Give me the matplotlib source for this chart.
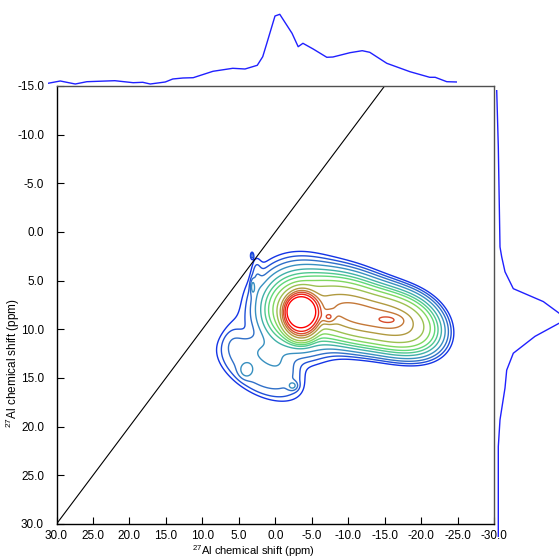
import numpy as np
import matplotlib
matplotlib.use("Agg")
import matplotlib.pyplot as plt
from matplotlib import font_manager

# ---------------- data ----------------
# F2 (horizontal) projection: chemical shift (ppm) and intensity (a.u.)
top_ppm = [30.0, 28.2, 26.0, 24.3, 20.2, 17.5, 16.1, 15.0, 12.8, 11.7, 10.2, 8.7, 5.8,
           2.9, 1.1, -0.7, -1.5, -2.1, -3.3, -4.0, -5.8, -6.7, -7.4, -8.9, -10.9,
           -11.8, -14.3, -16.1, -17.2, -19.7, -23.1, -26.0, -26.8, -28.5, -30.0]
top_int = [2.7, 5.0, 2.0, 4.3, 5.3, 3.3, 3.7, 2.0, 4.0, 7.0, 8.0, 8.3, 14.7,
           17.7, 17.0, 20.7, 29.3, 42.7, 70.0, 71.7, 52.7, 39.3, 42.7, 37.0, 28.7,
           29.0, 33.3, 35.3, 33.7, 22.7, 14.3, 8.7, 8.7, 4.3, 4.0]

# F1 (vertical) projection
right_ppm = [-15.0, -9.3, 0.8, 1.8, 3.3, 5.0, 6.3, 8.05, 9.8, 11.5, 13.2, 15.0, 18.2, 20.9, 30.0]
right_int = [2.7, 4.3, 6.0, 7.7, 11.0, 19.3, 49.3, 73.0, 41.0, 19.3, 12.7, 11.0, 6.0, 4.3, 4.3]

# 2D spectrum components: F2 centre, F1 centre, widths, shape exponents, shear, amplitude
peak_x = [-3.6, -3.0, -13.5, -15.8, -7.3, -9.0, 2.2, 4.0, -2.4, 6.0, 3.2, 3.1, 2.6]
peak_y = [8.5, 8.0, 8.8, 9.0, 8.8, 6.0, 14.2, 14.2, 15.8, 10.3, 2.4, 5.6, 4.0]
peak_sx = [2.1, 1.1, 6.0, 1.4, 0.6, 3.5, 5.3, 0.6, 0.45, 1.3, 0.15, 0.2, 0.5]
peak_sy = [2.0, 0.85, 1.8, 0.4, 0.45, 1.6, 2.5, 0.5, 0.3, 1.4, 0.25, 0.5, 1.4]
peak_ex = [2, 2, 3, 2, 2, 2, 2, 2, 2, 2, 2, 2, 2]
peak_ey = [2, 2, 2, 2, 2, 2, 2, 2, 2, 2, 2, 2, 2]
peak_p = [4, 1, 2, 2, 2, 2, 4, 2, 2, 2, 2, 2, 2]
peak_shear = [0, 0, -0.14, 0, 0, 0, -0.3, 0, 0, 0, 0, 0, 0]
peak_amp = [0.6, 0.8, 0.53, 0.08, 0.2, 0.06, 0.042, 0.03, 0.03, 0.015, 0.03, 0.03, 0.015]

levels = [0.0245, 0.033, 0.044, 0.06, 0.083, 0.108, 0.136, 0.18, 0.25, 0.37, 0.48,
          0.58, 0.69, 0.83]
level_colors = ['#1434e6', '#2050d8', '#3070c8', '#3890c0', '#40b0a8', '#50c890', '#60d878',
                '#80d860', '#9cc050', '#b09a40', '#c47838', '#d84c2c', '#ec2418', '#ff0000']

x_ticks = [30, 25, 20, 15, 10, 5, 0, -5, -10, -15, -20, -25, -30]
y_ticks = [-15, -10, -5, 0, 5, 10, 15, 20, 25, 30]
axis_label = r'$^{27}$Al chemical shift (ppm)'

# ---------------- style ----------------
names = {f.name for f in font_manager.fontManager.ttflist}
fam = ['Liberation Sans Narrow', 'Liberation Sans', 'DejaVu Sans']
fam = [f for f in fam if f in names] or ['DejaVu Sans']
plt.rcParams['font.family'] = fam
plt.rcParams['mathtext.default'] = 'regular'

W, H = 559, 558
fig = plt.figure(figsize=(W / 100, H / 100), dpi=100)

def box(l, t, r, b):
    return [l / W, 1 - b / H, (r - l) / W, (b - t) / H]

ax = fig.add_axes(box(56.5, 86, 494, 524))

xg = np.linspace(31, -31, 745)
yg = np.linspace(-16, 31, 565)
X, Y = np.meshgrid(xg, yg)
Z = np.zeros_like(X)
for cx, cy, sx, sy, ex, ey, p, sh, a in zip(peak_x, peak_y, peak_sx, peak_sy, peak_ex,
                                            peak_ey, peak_p, peak_shear, peak_amp):
    u = np.abs((X - cx) / sx)
    v = np.abs((Y - cy - sh * (X - cx)) / sy)
    r2 = u ** ex + v ** ey
    Z += a * np.exp(-0.5 * r2 ** (p / 2.0))

ax.contour(X, Y, Z, levels=levels, colors=level_colors, linewidths=1.0)
ax.axline((0, 0), (1, 1), color='black', lw=0.8)

ax.set_xlim(30, -30)
ax.set_ylim(30, -15)
ax.set_xticks(x_ticks)
ax.set_yticks(y_ticks)
ax.set_xticklabels([f"{v:.1f}" for v in x_ticks])
ax.set_yticklabels([f"{v:.1f}" for v in y_ticks])
ax.tick_params(direction='in', length=5, width=0.8, labelsize=8.5, colors='black')
ax.tick_params(axis='x', pad=4)
ax.tick_params(axis='y', pad=9)
for s in ax.spines.values():
    s.set_linewidth(1.0)
for s in ('top', 'right'):
    ax.spines[s].set_color('#505050')

ax.set_xlabel(axis_label, fontsize=8)
ax.set_ylabel(axis_label, fontsize=8.5)
ax.xaxis.set_label_coords(0.451, -0.061)
ax.yaxis.set_label_coords(-0.099, 0.368)
ax.xaxis.label.set_va('center')
ax.yaxis.label.set_va('center')

# top projection
axt = fig.add_axes(box(48, 0, 457, 86))
axt.plot(top_ppm, top_int, color='#2020ff', lw=1.0)
axt.set_xlim(30, -30)
axt.set_ylim(0, 86)
axt.axis('off')

# right projection
axr = fig.add_axes(box(494, 90, 559, 537))
axr.plot(right_int, right_ppm, color='#2020ff', lw=1.0)
axr.set_xlim(0, 65)
axr.set_ylim(30, -15)
axr.axis('off')

fig.savefig('out.png', dpi=100)
